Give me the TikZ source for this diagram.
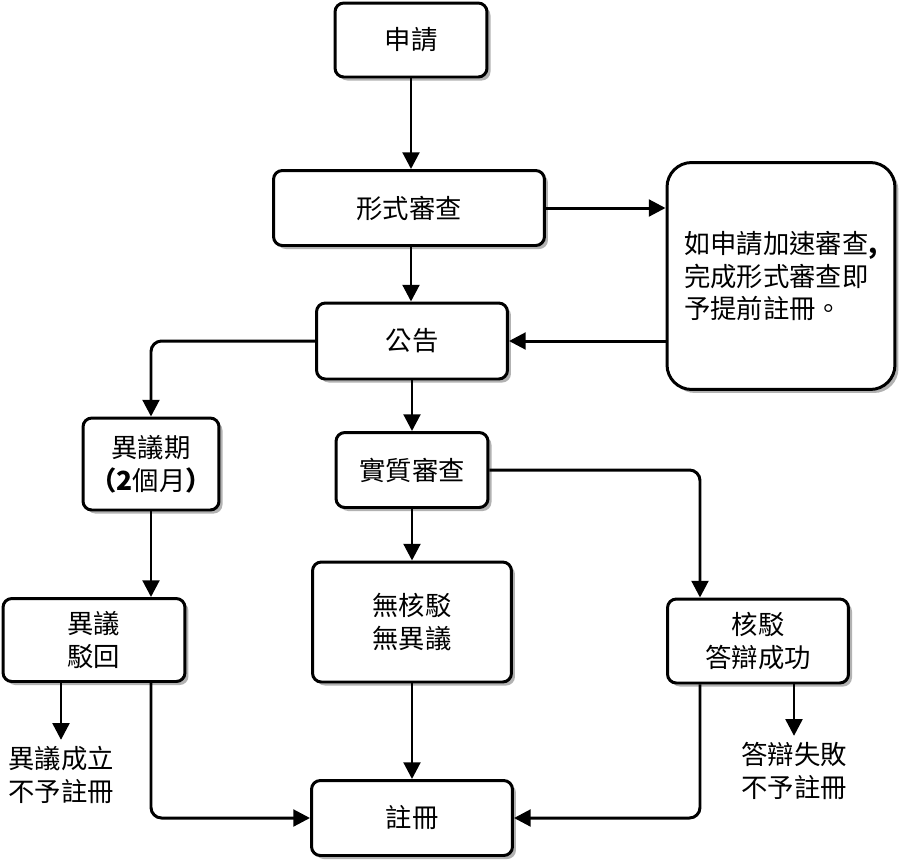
\documentclass[tikz,border=0pt]{standalone}
\usepackage{fontspec}
\setmainfont{Noto Sans CJK TC}
\usetikzlibrary{arrows.meta,calc,shadows}

\begin{document}
\begin{tikzpicture}[x=0.02cm,y=-0.02cm,
    every node/.style={font=\fontsize{15pt}{19pt}\selectfont},
    box/.style={draw,line width=1.7pt,rounded corners=5pt,fill=white,align=center,
      drop shadow={shadow xshift=2pt,shadow yshift=-2pt,opacity=0.3,fill=black}},
    link/.style={line width=1.7pt,-{Triangle[length=9.5pt,width=9.5pt]}}]
    \useasboundingbox (0,0) rectangle (900,863);

    \node[box,minimum width=3.04cm,minimum height=1.48cm] (apply) at (411,40) {申請};
    \node[box,minimum width=5.42cm,minimum height=1.5cm] (formal) at (409,208) {形式審查};
    \node[box,rounded corners=14pt,minimum width=4.56cm,minimum height=4.54cm,align=left,
          font=\fontsize{15pt}{18.7pt}\selectfont] (fast) at (781,276)
      {如申請加速審查\textbf{,}\\完成形式審查即\\予提前註冊。};
    \node[box,minimum width=3.82cm,minimum height=1.52cm] (notice) at (412,341) {公告};
    \node[box,minimum width=2.72cm,minimum height=1.84cm] (oppo) at (151,464)
      {異議期\\\textbf{（2}個月\textbf{）}};
    \node[box,minimum width=3.04cm,minimum height=1.5cm] (subst) at (412,470) {實質審查};
    \node[box,minimum width=3.64cm,minimum height=1.66cm] (reject) at (94,640) {異議\\駁回};
    \node[box,minimum width=3.98cm,minimum height=2.4cm] (clear) at (412,622) {無核駁\\無異議};
    \node[box,minimum width=3.62cm,minimum height=1.68cm] (refuse) at (758,641) {核駁\\答辯成功};
    \node[box,minimum width=4.02cm,minimum height=1.5cm] (reg) at (412,818) {註冊};

    \node[align=left] (lost1) at (61,775) {異議成立\\不予註冊};
    \node[align=left] (lost2) at (794,771) {答辯失敗\\不予註冊};

    \draw[link] (apply) -- (apply |- formal.north);
    \draw[link] (formal.east) -- (fast.west |- formal.east);
    \draw[link] (apply |- formal.south) -- (apply |- notice.north);
    \draw[link] (fast.west |- notice.east) -- (notice.east);
    \draw[link,rounded corners=6pt] (notice.west) -| (oppo.north);
    \draw[link] (notice) -- (subst);
    \draw[link,rounded corners=6pt] (subst.east) -| ($(refuse.north)+(-58,0)$);
    \draw[link] (subst) -- (clear);
    \draw[link] (oppo.south) -- (oppo.south |- reject.north);
    \draw[link] (lost1.north |- reject.south) -- (lost1.north);
    \draw[link,rounded corners=6pt] (oppo.south |- reject.south) |- (reg.west);
    \draw[link] (clear) -- (reg);
    \draw[link,rounded corners=6pt] ($(refuse.south)+(-58,0)$) |- (reg.east);
    \draw[link] (lost2.north |- refuse.south) -- (lost2.north);
\end{tikzpicture}
\end{document}
